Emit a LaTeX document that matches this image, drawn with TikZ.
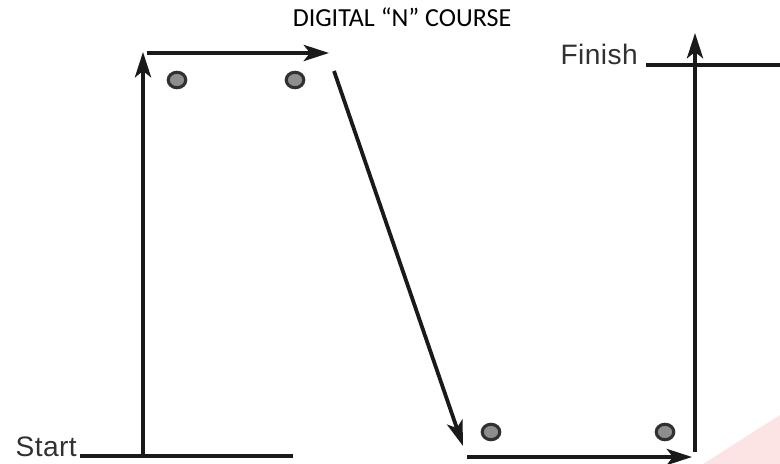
\documentclass[tikz,border=0pt]{standalone}
\usepackage{fontspec}
\setmainfont{Liberation Sans}
\newfontfamily\titlefont{Carlito}
\usetikzlibrary{arrows.meta,shapes.geometric}

\definecolor{ink}{HTML}{1A1A1A}
\definecolor{conegray}{HTML}{8E8E8E}
\definecolor{pinkstain}{HTML}{FDE4E4}

\begin{document}
\begin{tikzpicture}[x=0.025cm, y=-0.025cm,
    run/.style = {draw=ink, line width=2.7pt, -{Stealth[length=18pt, width=11.5pt, inset=4.5pt]}},
    tape/.style = {draw=ink, line width=2.7pt},
    cone/.style = {draw=ink!90, ellipse, fill=conegray, line width=2.2pt, inner sep=0pt, minimum width=12.5pt, minimum height=11pt},
    word/.style = {font=\fontsize{20}{24}\selectfont\addfontfeatures{LetterSpace=1.5}, text=ink!90, inner sep=0pt}]
    \useasboundingbox (0,0) rectangle (780,464);
    \fill[pinkstain] (703,464) -- (780,415) -- (780,464) -- cycle;

    \node[font=\titlefont\fontsize{18.5}{22}\selectfont, anchor=base] (title) at (402,27) {DIGITAL “N” COURSE};
    \node[word, anchor=base east] (start) at (77,456) {Start};
    \node[word, anchor=base east] (finish) at (638,65) {Finish};

    \node[cone] (1) at (177,80) {};
    \node[cone] (2) at (295,80) {};
    \node[cone] (3) at (491,432) {};
    \node[cone] (4) at (665,432) {};

    \coordinate (s1) at (80,456);
    \coordinate (s2) at (293,456);
    \coordinate (a1) at (143,456);
    \coordinate (a2) at (143,52);
    \coordinate (b1) at (147,53);
    \coordinate (b2) at (329,53);
    \coordinate (c1) at (334,71);
    \coordinate (c2) at (463,446);
    \coordinate (d1) at (467,457);
    \coordinate (d2) at (692,457);
    \coordinate (e1) at (695,452);
    \coordinate (e2) at (695,33);
    \coordinate (f1) at (646,65);
    \coordinate (f2) at (780,65);

    \draw[tape] (s1) -- (s2);
    \draw[tape] (f1) -- (f2);
    \draw[run] (a1) -- (a2);
    \draw[run] (b1) -- (b2);
    \draw[run] (c1) -- (c2);
    \draw[run] (d1) -- (d2);
    \draw[run] (e1) -- (e2);

\end{tikzpicture}
\end{document}
